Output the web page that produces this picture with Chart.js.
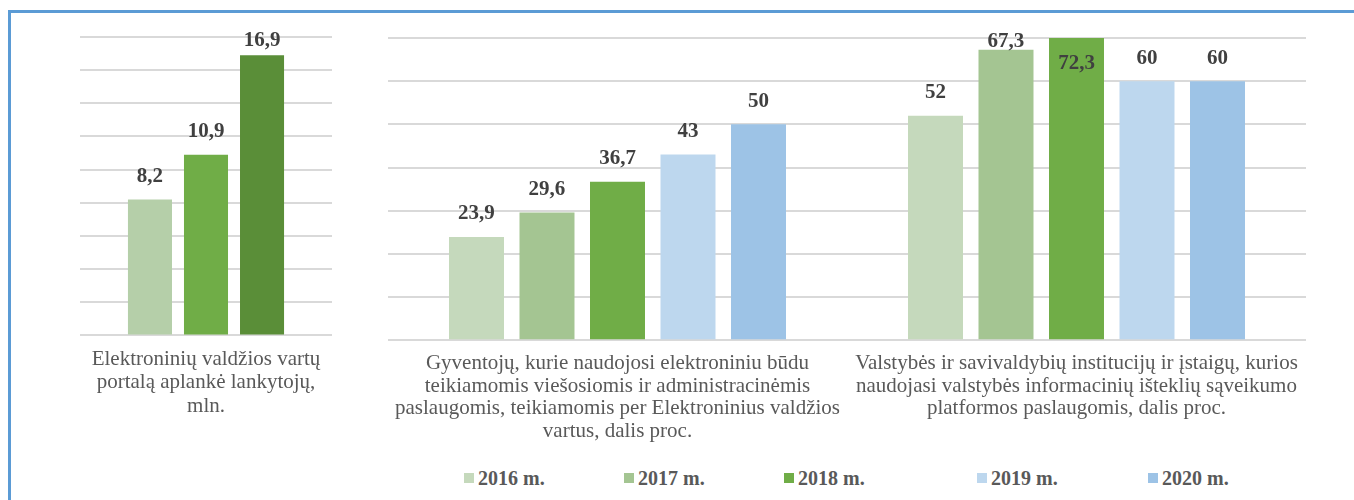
<!DOCTYPE html>
<html>
<head>
<meta charset="utf-8">
<script src="https://cdn.jsdelivr.net/npm/chart.js@4/dist/chart.umd.min.js"></script>
<style>
  html, body { margin:0; padding:0; background:#fff; }
  body { width:1354px; height:500px; position:relative; overflow:hidden; }
  #frame { position:absolute; left:8px; top:10px; width:1400px; height:600px;
           border-top:3px solid #5b9bd5; border-left:3px solid #5b9bd5; box-sizing:border-box; }
  #leftC { position:absolute; left:0; top:0; }
  #rightC { position:absolute; left:370px; top:0; }
  .lg { position:absolute; top:466px; height:24px; display:flex; align-items:center;
        font:bold 20px "Liberation Serif", "Times New Roman", serif; color:#595959; white-space:nowrap; }
  .lg span.sw { display:inline-block; width:10px; height:10px; margin-right:4px; }
</style>
</head>
<body>
<div id="frame"></div>
<canvas id="leftC" width="370" height="440"></canvas>
<canvas id="rightC" width="984" height="460"></canvas>
<div id="legend"></div>
<script>
// ---- data ----
const years = ['2016 m.', '2017 m.', '2018 m.', '2019 m.', '2020 m.'];
const yearColors = ['#c5d9bc', '#a4c592', '#70ad47', '#bdd7ee', '#9dc3e6'];

const leftCategory = [['Elektroninių valdžios vartų', 'portalą aplankė lankytojų,', 'mln.']];
const leftYears = ['2016 m.', '2017 m.', '2018 m.'];
const leftValues = [8.2, 10.9, 16.9];
const leftColors = ['#b5cfa9', '#70ad47', '#5a8e38'];
const leftMax = 18, leftStep = 2;

const rightCategories = [
  ['Gyventojų, kurie naudojosi elektroniniu būdu',
   'teikiamomis viešosiomis ir administracinėmis',
   'paslaugomis, teikiamomis per Elektroninius valdžios',
   'vartus, dalis proc.'],
  ['Valstybės ir savivaldybių institucijų ir įstaigų, kurios',
   'naudojasi valstybės informacinių išteklių sąveikumo',
   'platformos paslaugomis, dalis proc.']
];
const v2016 = [23.9, 52];
const v2017 = [29.6, 67.3];
const v2018 = [36.7, 72.3];
const v2019 = [43, 60];
const v2020 = [50, 60];
const rightSeries = [v2016, v2017, v2018, v2019, v2020];
const rightMax = 70, rightStep = 10;

const legendX = [464, 624, 784, 977, 1148];

// ---- helpers ----
const fmt = v => String(v).replace('.', ',');
const valueLabels = {
  id: 'valueLabels',
  afterDatasetsDraw(chart) {
    const { ctx, chartArea } = chart;
    ctx.save();
    ctx.font = 'bold 21px "Liberation Serif", "Times New Roman", serif';
    ctx.fillStyle = '#404040';
    ctx.textAlign = 'center';
    ctx.textBaseline = 'middle';
    chart.data.datasets.forEach((ds, i) => {
      const meta = chart.getDatasetMeta(i);
      meta.data.forEach((el, j) => {
        const v = ds.data[j];
        let y;
        if (el.y < chartArea.top) y = chartArea.top + 26;
        else y = Math.max(el.y - 23, chartArea.top + 4);
        ctx.fillText(fmt(v), el.x, y);
      });
    });
    ctx.restore();
  }
};

const serif = '"Liberation Serif", "Times New Roman", serif';
function scales(max, step, tickPad, lh) {
  return {
    x: {
      grid: { display: false, drawTicks: false },
      border: { display: false },
      ticks: {
        color: '#595959', font: { family: serif, size: 21, lineHeight: lh },
        maxRotation: 0, minRotation: 0, autoSkip: false, padding: tickPad
      }
    },
    y: {
      min: 0, max: max,
      ticks: { display: false, stepSize: step },
      grid: { color: '#d9d9d9', lineWidth: 2, drawTicks: false },
      border: { display: false }
    }
  };
}

const common = {
  responsive: false,
  animation: false,
  plugins: { legend: { display: false }, tooltip: { enabled: false } }
};

new Chart(document.getElementById('leftC'), {
  type: 'bar',
  data: {
    labels: leftCategory,
    datasets: leftValues.map((v, i) => ({
      label: leftYears[i], data: [v], backgroundColor: leftColors[i],
      categoryPercentage: 0.667, barPercentage: 0.786
    }))
  },
  options: Object.assign({}, common, {
    layout: { padding: { left: 80, right: 38, top: 37, bottom: 10 } },
    scales: scales(leftMax, leftStep, 12, 1.12)
  }),
  plugins: [valueLabels]
});

new Chart(document.getElementById('rightC'), {
  type: 'bar',
  data: {
    labels: rightCategories,
    datasets: rightSeries.map((d, i) => ({
      label: years[i], data: d, backgroundColor: yearColors[i],
      categoryPercentage: 0.768, barPercentage: 0.78
    }))
  },
  options: Object.assign({}, common, {
    layout: { padding: { left: 18, right: 48, top: 38, bottom: 5 } },
    scales: scales(rightMax, rightStep, 12, 1.08)
  }),
  plugins: [valueLabels]
});

// legend
const lg = document.getElementById('legend');
years.forEach((y, i) => {
  const d = document.createElement('div');
  d.className = 'lg';
  d.style.left = legendX[i] + 'px';
  d.innerHTML = '<span class="sw" style="background:' + yearColors[i] + '"></span>' + y;
  lg.appendChild(d);
});
</script>
</body>
</html>
